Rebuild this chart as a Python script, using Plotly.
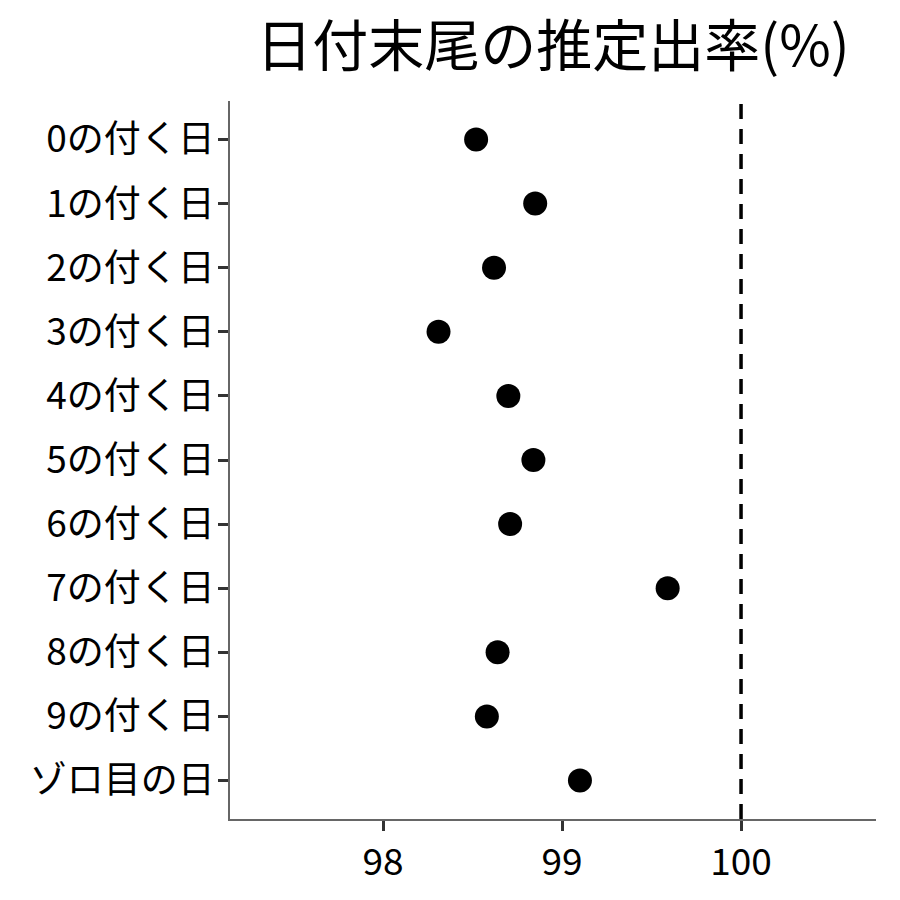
import plotly.graph_objects as go

categories = ["0の付く日", "1の付く日", "2の付く日", "3の付く日", "4の付く日",
              "5の付く日", "6の付く日", "7の付く日", "8の付く日", "9の付く日", "ゾロ目の日"]
rates = [98.52, 98.85, 98.62, 98.31, 98.70, 98.84, 98.71, 99.59, 98.64, 98.58, 99.10]
ref_value = 100
x_ticks = [98, 99, 100]

FONT = "Noto Sans CJK JP"

fig = go.Figure()
fig.add_trace(go.Scatter(
    x=rates, y=categories, mode="markers",
    marker=dict(color="black", size=24),
    showlegend=False, hoverinfo="x+y",
))

fig.add_shape(type="line", x0=ref_value, x1=ref_value, xref="x",
              y0=0, y1=1, yref="paper",
              line=dict(color="black", width=3.5, dash="15px,10px"))

fig.update_layout(
    width=900, height=900,
    paper_bgcolor="white", plot_bgcolor="white",
    margin=dict(l=222, r=32, t=93, b=89),
    font=dict(family=FONT, color="black"),
    title=dict(text="日付末尾の推定出率(%)", x=0.6056, xanchor="center",
               y=0.957, yanchor="middle",
               font=dict(family=FONT, size=56, color="black")),
)
fig.update_xaxes(
    range=[97.145, 100.754], tickvals=x_ticks, ticktext=[str(v) for v in x_ticks],
    showgrid=False, zeroline=False, automargin=False,
    showline=True, linecolor="#666666", linewidth=1.5,
    ticks="outside", ticklen=10, tickwidth=3, tickcolor="#333333",
    tickfont=dict(family=FONT, size=37, color="black"),
)
fig.update_yaxes(
    categoryorder="array", categoryarray=categories,
    autorange=False, range=[10.6, -0.6], automargin=False,
    showgrid=False, zeroline=False,
    showline=True, linecolor="#666666", linewidth=1.5,
    ticks="outside", ticklen=10, tickwidth=3, tickcolor="#333333",
    ticklabelstandoff=-4,
    tickfont=dict(family=FONT, size=37, color="black"),
)

fig.write_html("out.html")
